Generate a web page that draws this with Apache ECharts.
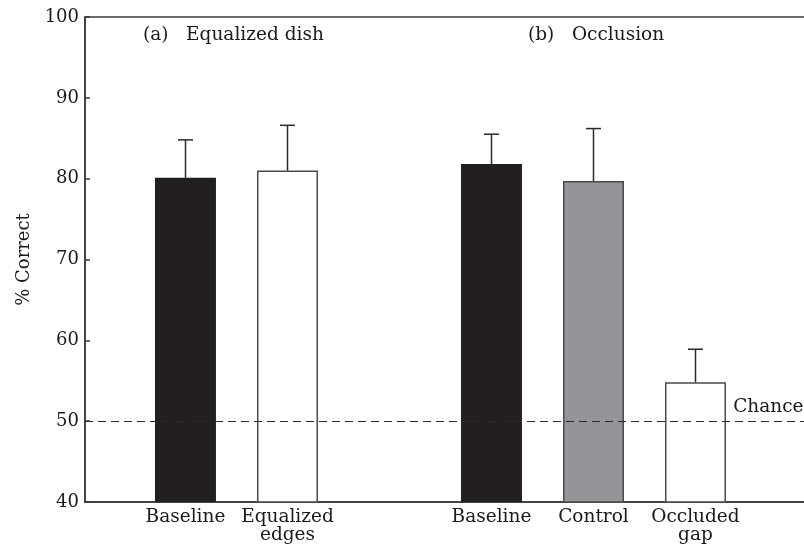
<!DOCTYPE html>
<html>
<head>
<meta charset="utf-8">
<script src="https://cdn.jsdelivr.net/npm/echarts@6/dist/echarts.min.js"></script>
<style>html,body{margin:0;padding:0;background:#fff;}#c{width:804px;height:554px;}</style>
</head>
<body>
<div id="c"></div>
<script>
const categories = ['Baseline', 'Equalized\nedges', 'Baseline', 'Control', 'Occluded\ngap'];
const positions = [0, 1, 3, 4, 5];
const means = [80.1, 81.0, 81.8, 79.7, 54.8];
const upperErr = [84.8, 86.6, 85.5, 86.2, 58.9];
const barColors = ['#231f20', '#ffffff', '#231f20', '#939598', '#ffffff'];
const panelLabels = ['(a)   Equalized dish', '(b)   Occlusion'];
const yMin = 40, yMax = 100, yStep = 10;
const chanceLevel = 50;

const FONT = 'DejaVu Serif';
const AX = '#3a3a3a';
const X_MIN = -0.985, X_MAX = 6.26;

const chart = echarts.init(document.getElementById('c'));
const barData = positions.map((p, i) => ({
  value: [p, means[i]],
  itemStyle: {
    color: barColors[i],
    borderColor: barColors[i] === '#231f20' ? '#231f20' : '#4a4a4a',
    borderWidth: barColors[i] === '#231f20' ? 0 : 1.5
  }
}));
const errData = positions.map((p, i) => [p, means[i], upperErr[i]]);

chart.setOption({
  animation: false,
  textStyle: { fontFamily: FONT },
  grid: { left: 85, top: 17, width: 739, bottom: 52, outerBoundsMode: 'none', containLabel: false,
          show: true, borderColor: AX, borderWidth: 1.5, backgroundColor: 'transparent' },
  xAxis: {
    type: 'value', min: X_MIN, max: X_MAX,
    axisLine: { show: true, onZero: false, lineStyle: { color: AX, width: 1.5 } },
    axisTick: { show: false },
    splitLine: { show: false },
    axisLabel: {
      customValues: positions,
      formatter: v => categories[positions.indexOf(v)],
      fontFamily: FONT, fontSize: 18.5, lineHeight: 18, color: '#1a1a1a', margin: 6
    }
  },
  yAxis: {
    type: 'value', min: yMin, max: yMax, interval: yStep,
    name: '% Correct', nameLocation: 'middle', nameRotate: 90, nameGap: 52,
    nameTextStyle: { fontFamily: FONT, fontSize: 18, color: '#1a1a1a' },
    axisLine: { show: true, onZero: false, lineStyle: { color: AX, width: 1.5 } },
    axisTick: { show: true, inside: true, length: 5, lineStyle: { color: AX, width: 1.5 } },
    splitLine: { show: false },
    axisLabel: { fontFamily: FONT, fontSize: 18, color: '#1a1a1a', margin: 6 }
  },
  graphic: [
    { type: 'text', left: 143, top: 26, style: { text: panelLabels[0], font: '18.5px "DejaVu Serif"', fill: '#1a1a1a' } },
    { type: 'text', left: 528, top: 26, style: { text: panelLabels[1], font: '18.5px "DejaVu Serif"', fill: '#1a1a1a' } }
  ],
  series: [
    {
      type: 'bar', data: barData, barWidth: 61, z: 2
    },
    {
      type: 'custom', z: 3,
      renderItem: (params, api) => {
        const x = api.value(0);
        const top = api.coord([x, api.value(1)]);
        const hi = api.coord([x, api.value(2)]);
        const cx = Math.round(top[0]) + 0.5;
        return {
          type: 'group',
          children: [
            { type: 'line', shape: { x1: cx, y1: top[1], x2: cx, y2: hi[1] }, style: { stroke: '#2a2a2a', lineWidth: 1.5 } },
            { type: 'line', shape: { x1: cx - 7.5, y1: hi[1], x2: cx + 7.5, y2: hi[1] }, style: { stroke: '#2a2a2a', lineWidth: 1.5 } }
          ]
        };
      },
      data: errData,
      markLine: {
        silent: true, symbol: 'none', z: 5,
        lineStyle: { color: '#2a2a2a', type: [8, 5], width: 1.2 },
        data: [
          { yAxis: chanceLevel, label: { show: false } },
          [
            { coord: [5.37, chanceLevel], lineStyle: { color: 'rgba(0,0,0,0)', width: 0 },
              label: { show: true, position: 'insideStartTop', formatter: 'Chance', distance: [0, 4], fontFamily: FONT, fontSize: 18.5, color: '#1a1a1a' } },
            { coord: [X_MAX, chanceLevel] }
          ]
        ]
      }
    }
  ]
});
</script>
</body>
</html>
